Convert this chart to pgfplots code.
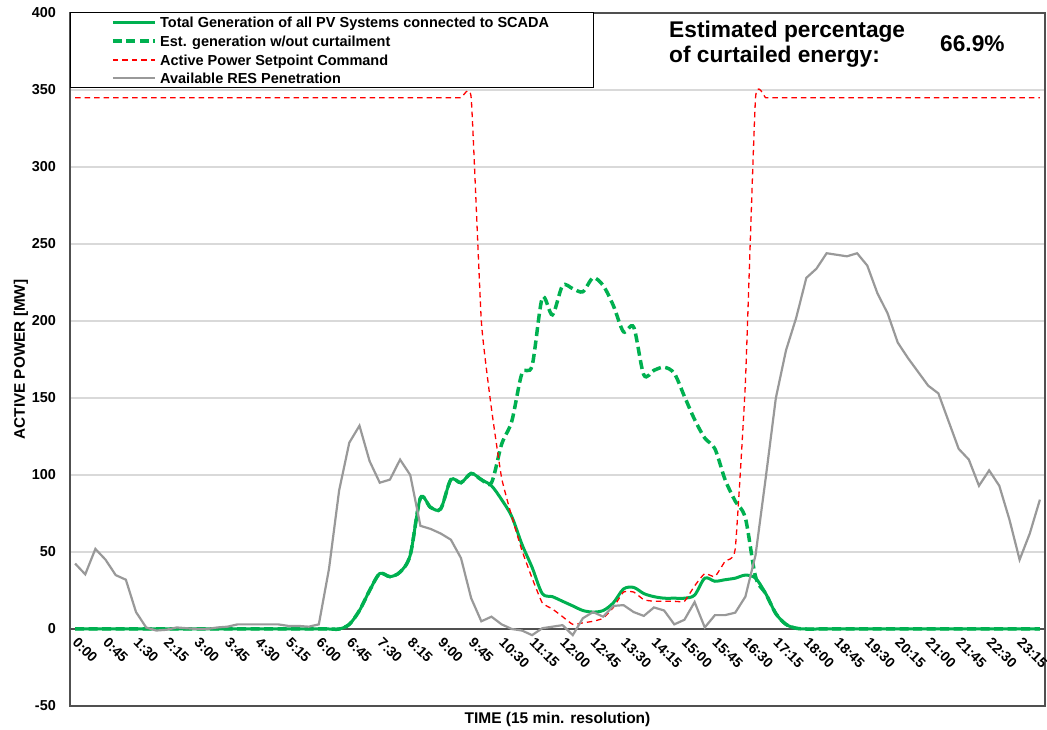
\documentclass[border=0pt]{standalone}
\usepackage{pgfplots}
\pgfplotsset{compat=1.18}
\usepackage{pgfplotstable}
\usepackage{fontspec}
\setmainfont{Liberation Sans}
\definecolor{pvgreen}{RGB}{0,176,80}
\definecolor{resgray}{RGB}{153,153,153}
\definecolor{gridgray}{RGB}{217,217,217}
\definecolor{framegray}{RGB}{80,80,80}
\definecolor{spred}{RGB}{255,0,0}

\pgfplotstableread{
i gen est sp res
0 0 0 345 42.5
1 0 0 345 35.5
2 0 0 345 52
3 0 0 345 45
4 0 0 345 35
5 0 0 345 32
6 0 0 345 11
7 0 0 345 1
8 0 0 345 -1
9 0 0 345 -0.5
10 0 0 345 1
11 0 0 345 0.5
12 0 0 345 0
13 0 0 345 0
14 0 0 345 1
15 0 0 345 1.5
16 0 0 345 3
17 0 0 345 3
18 0 0 345 3
19 0 0 345 3
20 0 0 345 3
21 0 0 345 2
22 0 0 345 2
23 0 0 345 1.5
24 0 0 345 3
25 0 0 345 39
26 0 0 345 90
27 3 3 345 121
28 12 12 345 132
29 25 25 345 109
30 36 36 345 95
31 34 34 345 97
32 37 37 345 110
33 48 48 345 100
34 85 85 345 67
35 79 79 345 65
36 78 78 345 62
37 97 97 345 58
38 95 95 345 46
39 101 101 345 20
40 97 97 200 5
41 93 95 143 8
42 84 120 98 3
43 73 135 73 0
44 55 166 51 -1
45 40 171 33 -4
46 23 215 17 0.5
47 21 204 13 1.5
48 18 223 8 2.5
49 15 221 3 -4
50 12 219 4 7
51 11 228 5 11
52 12 223 7 8
53 17 210 14 15
54 26 193 24 15.5
55 27 196 24 11
56 23 165 19 8.5
57 21 168 18 14
58 20 170 18 12
59 20 166 18 3
60 20 151 18 6
61 22 136 28 17.5
62 33 124 36 1
63 31 117 34 9
64 32 97 44 9
65 33 83 52 10.6
66 35 72 160 21
67 33 34 345 48
68 23 23 345 98
69 10 10 345 150
70 3 3 345 181
71 0.5 0.5 345 202
72 0 0 345 228
73 0 0 345 234
74 0 0 345 244
75 0 0 345 243
76 0 0 345 242
77 0 0 345 244
78 0 0 345 236
79 0 0 345 218
80 0 0 345 205
81 0 0 345 186
82 0 0 345 176
83 0 0 345 167
84 0 0 345 158
85 0 0 345 153
86 0 0 345 135
87 0 0 345 117
88 0 0 345 110
89 0 0 345 93
90 0 0 345 103
91 0 0 345 93
92 0 0 345 71
93 0 0 345 45
94 0 0 345 62
95 0 0 345 84
}\data

\begin{document}
\begin{tikzpicture}
\useasboundingbox (0,0) rectangle (1047bp,730bp);
\begin{axis}[
  at={(70bp,24bp)}, anchor=south west,
  scale only axis, width=975bp, height=693bp,
  xmin=-0.5, xmax=95.5, ymin=-50, ymax=400,
  xtick={0,3,...,93},
  xticklabels={0:00,0:45,1:30,2:15,3:00,3:45,4:30,5:15,6:00,6:45,7:30,8:15,9:00,9:45,10:30,11:15,12:00,12:45,13:30,14:15,15:00,15:45,16:30,17:15,18:00,18:45,19:30,20:15,21:00,21:45,22:30,23:15},
  ytick={-50,0,50,100,150,200,250,300,350,400},
  yticklabels={-50,0,50,100,150,200,250,300,350,400},
  major tick length=0pt,
  ymajorgrids, major grid style={gridgray, line width=1.3bp},
  axis line style={framegray, line width=1.5bp},
  xticklabel shift=-66bp,
  xticklabel style={font=\fontsize{14bp}{16bp}\selectfont\bfseries, rotate=-45, anchor=west, inner sep=0pt},
  yticklabel style={font=\fontsize{14.4bp}{16bp}\selectfont\bfseries, anchor=east, inner sep=0pt, xshift=-14bp},
  xlabel={TIME (15 min. resolution)},
  xlabel style={at={(axis description cs:0.5,0)}, anchor=center, yshift=-13bp, font=\fontsize{15.5bp}{17bp}\selectfont\bfseries},
  ylabel={ACTIVE POWER [MW]},
  ylabel style={at={(axis description cs:-0.0503,0.5)}, anchor=center, font=\fontsize{15.3bp}{17bp}\selectfont\bfseries},
]
\draw[framegray, line width=1.3bp] (axis cs:-0.5,0) -- (axis cs:95.5,0);
\addplot[draw=pvgreen, line width=3bp, smooth] table[x=i, y=gen] {\data};
\addplot[draw=pvgreen, line width=3.5bp, smooth, dash pattern=on 9bp off 4.5bp] table[x=i, y=est] {\data};
\addplot[draw=spred, line width=1.3bp, smooth, tension=0.25, dash pattern=on 5.5bp off 4bp] table[x=i, y=sp] {\data};
\addplot[draw=resgray, line width=2.2bp] table[x=i, y=res] {\data};
% legend (manual, to keep the line colours)
\draw[black, line width=1bp, fill=white] (axis description cs:0,1) rectangle (axis description cs:0.5374,0.8932);
\draw[pvgreen, line width=3bp] (axis description cs:0.0441,0.9870) -- (axis description cs:0.0872,0.9870);
\draw[pvgreen, line width=3.5bp, dash pattern=on 9bp off 4.5bp] (axis description cs:0.0441,0.9596) -- (axis description cs:0.0872,0.9596);
\draw[spred, line width=1.3bp, dash pattern=on 5.5bp off 4bp] (axis description cs:0.0441,0.9322) -- (axis description cs:0.0872,0.9322);
\draw[resgray, line width=2.2bp] (axis description cs:0.0441,0.9062) -- (axis description cs:0.0872,0.9062);
\begin{scope}[every node/.style={anchor=base west, inner sep=0pt, font=\fontsize{14.5bp}{17bp}\selectfont\bfseries}]
\node at (axis description cs:0.0923,0.9794) {Total Generation of all PV Systems connected to SCADA};
\node at (axis description cs:0.0923,0.9514) {Est. generation w/out curtailment};
\node at (axis description cs:0.0923,0.9240) {Active Power Setpoint Command};
\node at (axis description cs:0.0923,0.8986) {Available RES Penetration};
\end{scope}
\node[anchor=west, align=left, inner sep=0pt, font=\fontsize{22.7bp}{25bp}\selectfont\bfseries] at (axis description cs:0.6144,0.955) {Estimated percentage\\of curtailed energy:};
\node[anchor=west, inner sep=0pt, font=\fontsize{22.7bp}{25bp}\selectfont\bfseries] at (axis description cs:0.8923,0.955) {66.9\%};
\end{axis}
\end{tikzpicture}
\end{document}
